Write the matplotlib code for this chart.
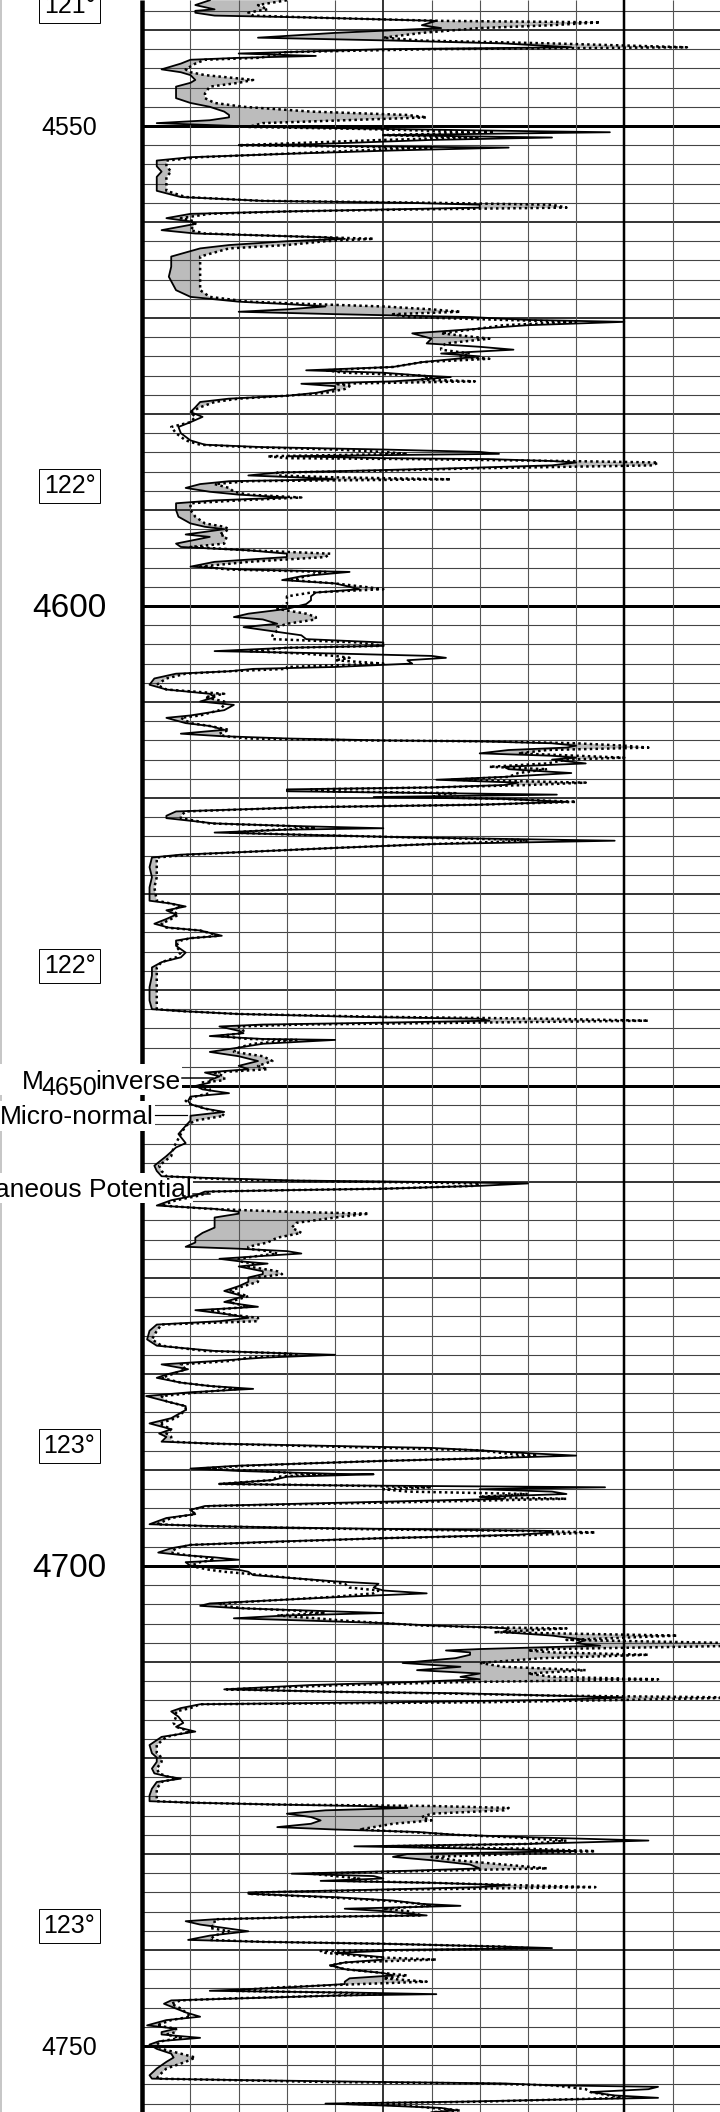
import numpy as np
import matplotlib
matplotlib.use("Agg")
import matplotlib.pyplot as plt
from matplotlib.patches import Rectangle

plt.rcParams["font.family"] = ["Liberation Sans", "DejaVu Sans"]

# depth in feet, curves in grid units (10 per division)
depth_1 = [4536.9,4537.4,4537.85,4538,4538.2,4538.5,4538.7,4538.9,4539.05,4539.2,
           4539.5,4539.8,4540.3,4540.8,4541.1,4541.4,4541.8,4542,4542.3,4542.45,
           4542.7,4542.9,4543.1,4543.5,4544.1,4544.4,4544.7,4545.2,4545.5,4545.9,
           4546.6,4547.1,4547.6,4548,4548.5,4548.85,4549.1,4549.4,4549.7,4550.1,
           4550.3,4550.5,4550.65,4550.95,4551.2,4551.45,4551.9,4552,4552.25,4552.55,
           4552.9,4553.25,4553.6,4554.2,4554.75,4555.3,4556,4556.75,4557.4,4557.8,
           4558,4558.2,4558.5,4558.7,4558.9,4559.15,4559.6,4559.95,4560.2,4560.85,
           4561.2,4561.4,4561.6,4561.75,4562,4562.4,4562.75,4563.6,4564.65,4565.7,
           4567.1,4567.8,4568.3,4568.55,4568.8,4569.1,4569.35,4569.6,4569.9,4570.2,
           4570.4,4570.75,4571.1,4571.6,4572.15,4572.65,4573,4573.3]
inverse_1 = [14,11,15,11,11,15,35,50,61,60,
             58,62,40,24,52,75,89,50,30,20,
             36,20,10,8,4,8,10,11,10,7,
             7,7,10,14,17,18,18,14,3,25,
             50,75,97,50,85,60,35,20,76,52,
             30,10,3,3,4,3,3,3,8,25,
             55,70,70,50,30,10,5,10,11,4,
             11,25,38,42,30,18,12,6,6,5.5,
             7,10,20,30,38,30,20,40,68,80,
             100,80,70,56,60,59,70,77]
normal_1 = [30,24,26,24,22,23,35,50,62,95,
            85,70,58,50,58,85,113,60,30,28,
            27,24,13,11,9,10,13,23,20,14,
            13,13,15,21,35,55,59,42,25,22,
            45,60,73,50,70,50,25,20,60,45,
            29,12,5,5,6,5,5,5,9,25,
            60,85,88,55,30,14,8,11,11,10,
            13,25,38,48,38,30,18,12,12,12,
            12,14,22,35,50,60,66,52,55,75,
            90,75,70,62,72,63,62,62]

depth_2 = [4573.7,4574,4574.25,4574.6,4575.1,4575.45,4575.7,4576,4576.15,4576.4,
           4576.6,4576.85,4577.1,4577.4,4577.8,4578.1,4578.4,4578.75,4579.3,4579.8,
           4580.3,4580.85,4581.35,4582,4582.75,4583.2,4583.45,4583.7,4583.95,4584.15,
           4584.4,4584.6,4584.7,4584.9,4585.05,4585.35,4585.65,4585.9,4586.1,4586.4,
           4586.6,4586.8,4587,4587.3,4587.7,4588.1,4588.4,4588.7,4589,4589.3,
           4590,4590.7,4591.4,4591.75,4592,4592.55,4592.8,4593.5,4593.85,4594.2,
           4594.55,4594.9,4595.4,4595.9,4596.2,4596.45,4596.9,4597.3,4597.65,4598,
           4598.25,4598.6,4599,4599.4,4599.8,4600.3,4600.8,4601.15,4601.4,4601.85,
           4602.2,4602.55,4603.05,4603.45,4603.8,4604.15,4604.35,4604.7,4604.95,4605.2,
           4605.4,4605.65,4606,4606.35,4606.55,4606.8,4607.05,4607.55,4608.2,4608.7,
           4609.15,4609.5,4609.95]
inverse_2 = [62,70,65,58,52,34,50,58,64,58,
             52,33,40,40,36,30,18,12,11,10,
             12.5,10,7.5,8,10,13,25,50,70,74,
             30,50,72,85,90,85,65,45,28,22,
             32,40,18,12,9,14,20,30,15,7,
             7,7.5,10,13,17,9,14,7,8,22,
             30,30,15,10,21,43,33,29,40,43,
             45,36,35,35,34,30,22,19,25,28,
             21,26,33,34,50,50,30,15,40,60,
             63,55,56,40,23,18,7,2.5,1.5,5,
             14,15,12]
normal_2 = [68,66,72,58,52,38,42,58,60,58,
            69,40,43,42,38,30,20,15,12,10,
            11,10,6,7,9,12,22,40,50,55,
            26,30,56,88,107,106,70,50,28,28,
            40,64,22,15,18,19,22,33,20,10,
            10,11,13,17,18,16,17.5,17,10,22,
            39,38,22,12,18,38,34,31,40,46,
            50,35,30,30,30,28,34,36,36,30,
            28,28,27,27,45,50,30,22,33,40,
            43,40,50,30,30,18,9,5,3,5,
            17,13,17]

depth_3 = [4610.3,4610.85,4611.4,4611.65,4612.2,4612.5,4612.9,4613.3,4613.55,4613.8,
           4614,4614.1,4614.3,4614.55,4614.75,4615,4615.35,4615.6,4615.8,4616,
           4616.4,4616.75,4617,4617.4,4617.8,4618.1,4618.4,4618.65,4618.9,4619.1,
           4619.3,4619.5,4619.65,4619.9,4620.1,4620.4,4620.7,4620.95,4621.4,4621.85,
           4622.1,4622.65,4622.9,4623.15,4623.3,4623.6,4623.85,4624.1,4624.35,4624.45,
           4624.8,4625.2,4625.65,4625.9,4626.2,4627.2,4628.25,4629.3,4630.7,4631,
           4631.3,4631.7,4632.15,4632.6,4633.1,4633.5,4633.8,4634.35,4634.6,4634.85,
           4635.4,4636.1,4636.6,4637.1,4637.65,4638.5,4639.7,4641.1,4642,4642.2,
           4642.5,4642.8,4643,4643.2,4643.4,4643.6,4643.8,4644.25,4644.5,4644.8,
           4645.1,4645.2,4645.6,4646,4646.45]
inverse_3 = [19,17,10,5,9,14,17,8,16,30,
             50,70,85,90,88,76,70,85,90,85,
             92,75,76,89,75,61,78,75,60,30,
             30,62,86,48,75,88,70,35,7,5,
             5,15,30,50,30,15,35,55,85,98,
             60,40,20,8,2,1.5,2,1.5,1.5,6,
             9,5,7,5,2.5,5.5,12,16.5,10,7,
             7,9,8,4,2,2,1.5,1.5,2,8,
             20,45,70,72,50,25,16,20,21,14,
             25,40,25,20,14]
normal_3 = [17,16,12,8,10,14,18,16,17,22,
            45,72,90,100,105,84,78,90,100,88,
            84,72,84,78,76,64,92,80,60,35,
            38,65,62,60,75,90,70,35,9,8,
            8,14,30,36,28,18,34,55,78,80,
            60,40,20,10,3,3,3,2.5,3,6,
            8,6,7.5,6,4,5,12,16,10,8,
            7,8,7,4,3,3,3,3,3,8,
            20,50,85,105,70,33,20,21,20.5,16,
            22,32,23,20,19]

depth_4 = [4646.9,4647.4,4647.9,4648.25,4648.6,4649,4649.4,4649.65,4650,4650.35,
           4650.75,4651.1,4651.55,4651.9,4652.35,4652.7,4653.1,4653.6,4654.15,4655,
           4655.95,4656.4,4657.3,4658.3,4658.85,4659.4,4659.6,4659.85,4660,4660.15,
           4660.4,4660.7,4660.85,4661,4661.4,4661.9,4662.45,4662.8,4663.1,4663.3,
           4663.7,4664.25,4664.75,4665.3,4665.8,4666.3,4666.75,4666.95,4667.2,4667.45,
           4667.7,4668,4668.25,4668.5,4668.8,4669.3,4669.6,4669.95,4670.4,4670.85,
           4671.35,4671.9,4672.5,4673,4673.35,4673.8,4674.15,4674.5,4674.85,4675.5,
           4676.4,4677.05,4677.6,4677.85,4678,4678.3,4678.65,4679,4679.5,4680.05,
           4680.4,4680.9,4681.25,4681.55,4681.9,4682.3,4682.85,4683.35]
inverse_4 = [20,24,20,22,13,16,14,14,11,12.5,
             18,10,9.5,10,13,17,10,10,9,7.5,
             9,7,5,2.5,3,4,15,32,60,80,
             70,50,30,13,11,6,3,15,20,20,
             15,15,15,12.5,11,11,9,20,30,33,
             25,16,20,26,20,25,25,22,22,20,
             17,21,17,24,11,18,22,16,3,1.5,
             1,3,15,30,40,25,15,4,9.5,5,
             3,8,14,23,10,0.8,5,9]
normal_4 = [25,27,24,26,15,17,17,12,12,14,
            14,11,9,10,13,16,17,11,9,8,
            7,6.5,6,3.5,4,5,12,25,50,70,
            69,50,30,14,12,7,4,14,30,47,
            40,32,31,33,28,26,22,22,26,28,
            24,20,20,23,22,28,29,24,24,21,
            18,22,18,22,14,18,24,24,4,3,
            2,4,13,30,32,22,18,8,9,6,
            4,8,14,20,12,4,5,9]

depth_5 = [4683.75,4684.6,4685.15,4685.75,4686.2,4686.55,4687.05,4687.25,4687.45,4687.7,
           4687.95,4688.25,4688.5,4688.8,4689.05,4689.3,4689.55,4689.85,4690.1,4690.4,
           4690.45,4690.7,4691.05,4691.45,4691.6,4691.8,4692,4692.25,4692.5,4692.8,
           4693,4693.3,4693.75,4694.15,4694.6,4695,4695.65,4695.85,4696,4696.2,
           4696.35,4696.5,4696.75,4697.1,4697.45,4697.8,4698.15,4698.6,4698.85,4699.1,
           4699.35,4699.6,4700,4700.4,4700.6,4700.95,4701.3,4701.6,4701.85,4702.25,
           4702.55,4702.85,4703.2,4703.55,4703.9,4704.15,4704.4,4704.65,4704.9,4705.15,
           4705.45,4705.7,4705.95,4706.2,4706.4,4706.5,4706.9,4707.25,4707.7,4708.05,
           4708.3,4708.65,4708.8,4709,4709.25,4709.6,4710.1,4710.5,4710.85,4711.2,
           4711.55,4711.8,4712.1,4712.4,4712.85,4713.1,4713.25,4713.5,4713.7,4713.95,
           4714.2,4714.4,4714.8,4715.15,4715.7,4716.35,4716.75,4717.25,4717.8,4718.65,
           4719.5,4719.95]
inverse_5 = [9,6,1.5,6,3.5,5,4,15,35,60,
             70,80,90,70,50,35,20,10,20,40,
             48,30,27,16,40,96,70,85,88,70,
             75,50,13,10,11,5,1.5,15,30,60,
             85,85,78,50,28,10,6,3.3,8,15,
             20,9,10,20,22,23,32,40,49,48,
             50,59,42,28,14,12,20,35,50,30,
             19,35,50,60,72,76,75,85,92,90,
             95,70,63,68,68,65,54,66,57,70,
             66,70,55,35,17,40,65,85,100,85,
             50,12,8,6,7.5,8.5,7,11,4,1.5,
             2,3]
normal_5 = [9,7,3.5,6,5,6,6,14,30,50,
            70,75,82,70,50,35,22,12,25,33,
            38,28,27,16,40,60,50,55,80,70,
            88,60,14,10,11,6,3,13,28,50,
            80,94,82,50,30,10,7,6,9,13,
            15,12,10,14,17,25,32,38,42,43,
            49,48,40,28,16,17,21,32,38,28,
            36,42,50,58,72,88,73,111,88,125,
            125,85,80,85,105,83,70,75,92,80,
            85,107,66,42,17.5,40,60,85,125,100,
            70,12,10,7,7,6.5,7,10,5,3,
            3,4]

depth_6 = [4720.4,4721.1,4721.6,4721.9,4722.15,4722.5,4723.2,4723.9,4724.5,4724.65,
           4724.85,4725,4725.2,4725.45,4725.8,4726.15,4726.5,4726.85,4727.2,4727.45,
           4727.7,4728,4728.25,4728.6,4728.95,4729.2,4729.45,4729.7,4730,4730.3,
           4730.65,4731.1,4731.5,4731.75,4732.05,4732.3,4732.55,4732.8,4733,4733.25,
           4733.45,4733.7,4734,4734.15,4734.5,4734.85,4735.2,4735.4,4735.7,4735.95,
           4736.4,4736.55,4736.8,4737,4737.35,4737.7,4738.05,4738.5,4738.95,4739.15,
           4739.35,4739.65,4739.8,4740,4740.1,4740.3,4740.75,4741,4741.3,4741.6,
           4742,4742.4,4742.65,4742.95,4743.3,4743.55,4743.9,4744.25,4744.45,4744.6,
           4744.75,4745.05,4745.25,4745.6,4746.1,4746.5,4746.95,4747.3,4747.85,4748.2,
           4748.55,4748.8,4749.15,4749.5,4749.85,4750.3,4750.8,4751.2,4751.65,4752.35,
           4753.05,4753.4,4753.55,4753.75,4753.9,4754.1,4754.25,4754.5,4754.8,4755.15,
           4755.4,4755.6,4755.8,4756,4756.2,4756.45,4756.7,4756.9]
inverse_6 = [3,2,2.5,5,8,3,2,1.5,1.5,10,
             28,45,55,38,30,35,37,35,28,40,
             57,65,80,105,80,44,70,90,55,52,
             60,68,70,55,31,48,50,37,60,76,
             70,50,22,22,40,52,58,66,42,50,
             59,35,15,9,12,17,22,14,9.5,25,
             50,75,85,50,50,40,50,50,42,39,
             42,50,52,43,42,42,30,14,45,61,
             40,20,6,4.5,7,9,12,5,1,7,
             4,4,12,3.5,1.5,3,6,6.5,5,3,
             1.5,2,20,50,75,85,107,105,93,98,
             107,85,66,38,50,62,65,60]
normal_6 = [4,3,3.5,5,7,4,3,3,3,10,
            28,60,76,75,60,58,60,52,48,45,
            55,65,76,88,80,50,80,94,78,60,
            65,75,84,60,35,40,45,42,60,78,
            94,55,24,22,38,50,58,60,50,55,
            58,35,15,15,15,14,18,15,14,25,
            50,75,80,60,37,38,48,61,42,39,
            42,50,55,50,59,45,28,18,42,50,
            40,18,8,6,8,9,10,6,3,7,
            7,5,8,4,3,4,8,11,9,5,
            3.5,3,18,38,70,85,88,92,93,97,
            100,85,70,42,55,60,66,60]

depth_labels = [4550, 4600, 4650, 4700, 4750]
depth_label_sizes = [18, 24, 18, 24, 18]
temp_labels = ["121°", "122°", "122°", "123°", "123°"]
temp_depths = [4537.47, 4587.47, 4637.47, 4687.47, 4737.47]

depth = np.concatenate([depth_1, depth_2, depth_3, depth_4, depth_5, depth_6])
inverse = np.concatenate([inverse_1, inverse_2, inverse_3, inverse_4, inverse_5, inverse_6])
normal = np.concatenate([normal_1, normal_2, normal_3, normal_4, normal_5, normal_6])

fig = plt.figure(figsize=(7.2, 21.12), dpi=100)
ax = fig.add_axes([0, 0, 1, 1])
x_min, x_max = -29.52, 119.85
ax.set_xlim(x_min, x_max)
ax.set_ylim(4756.875, 4536.875)
ax.axis("off")

px = 0.72  # one pixel in points
ax.axvline(x_min, color="0.78", lw=3 * px, zorder=1)

# shading sits under the grid, where the normal curve reads above the inverse
ax.fill_betweenx(depth, inverse, normal, where=normal > inverse, interpolate=True,
                 color="#bcbcbc", lw=0, zorder=0.5)

# horizontal grid every 2 ft, heavier each 10 and 50
for d in range(4538, 4757, 2):
    if d % 50 == 0:
        lw, c = 3 * px, "black"
    elif d % 10 == 0:
        lw, c = 1.8 * px, "#222222"
    else:
        lw, c = 1.1 * px, "#444444"
    ax.plot([0, x_max], [d, d], color=c, lw=lw, zorder=1, solid_capstyle="butt")

# vertical grid, one line per 10 units
for v in range(0, 120, 10):
    if v == 0:
        lw, c = 4.5 * px, "black"
    elif v == 100:
        lw, c = 2.5 * px, "black"
    elif v == 50:
        lw, c = 1.8 * px, "#222222"
    else:
        lw, c = 1.1 * px, "#555555"
    ax.plot([v, v], [4536.875, 4756.875], color=c, lw=lw, zorder=2, solid_capstyle="butt")

# white label patches that cut the grid
ax.add_patch(Rectangle((x_min, 4647.7), 8.2 - x_min, 3.2, fc="white", ec="none", zorder=3))
ax.add_patch(Rectangle((x_min, 4651.56), 2.6 - x_min, 3.14, fc="white", ec="none", zorder=3))
ax.add_patch(Rectangle((x_min, 4659.06), 10.5 - x_min, 3.14, fc="white", ec="none", zorder=3))

ax.plot([8.2, 14.7], [4649.2, 4649.2], color="black", lw=1.5 * px, zorder=4)
ax.plot([2.6, 9.2], [4653, 4653], color="black", lw=1.2 * px, zorder=4)
ax.plot([10.5, 14], [4661.25, 4661.25], color="black", lw=1.5 * px, zorder=4)

ax.text((21.7 - 142.3) / 4.82, 4650.28, "M", ha="left", va="baseline", fontsize=19, zorder=5)
ax.text(8.0, 4650.28, "inverse", ha="right", va="baseline", fontsize=19, zorder=5)
ax.text(2.4, 4654.0, "Micro-normal", ha="right", va="baseline", fontsize=19, zorder=5)
ax.text(10.3, 4661.6, "Spontaneous Potential", ha="right", va="baseline", fontsize=19, zorder=5)

x_label = (69.5 - 142.3) / 4.82
for d, size in zip(depth_labels, depth_label_sizes):
    ax.text(x_label, d + 0.25, str(d), ha="center", va="center", fontsize=size, zorder=6)

for label, d in zip(temp_labels, temp_depths):
    ax.text(x_label, d, label, ha="center", va="center", fontsize=18, zorder=5,
            bbox=dict(boxstyle="square,pad=0.2", fc="white", ec="black", lw=0.7))

ax.plot(normal, depth, color="black", lw=1.8, ls=(0, (1, 1.3)), zorder=7, dash_capstyle="butt")
ax.plot(inverse, depth, color="black", lw=1.3, zorder=8)

fig.savefig("out.png", dpi=100)
